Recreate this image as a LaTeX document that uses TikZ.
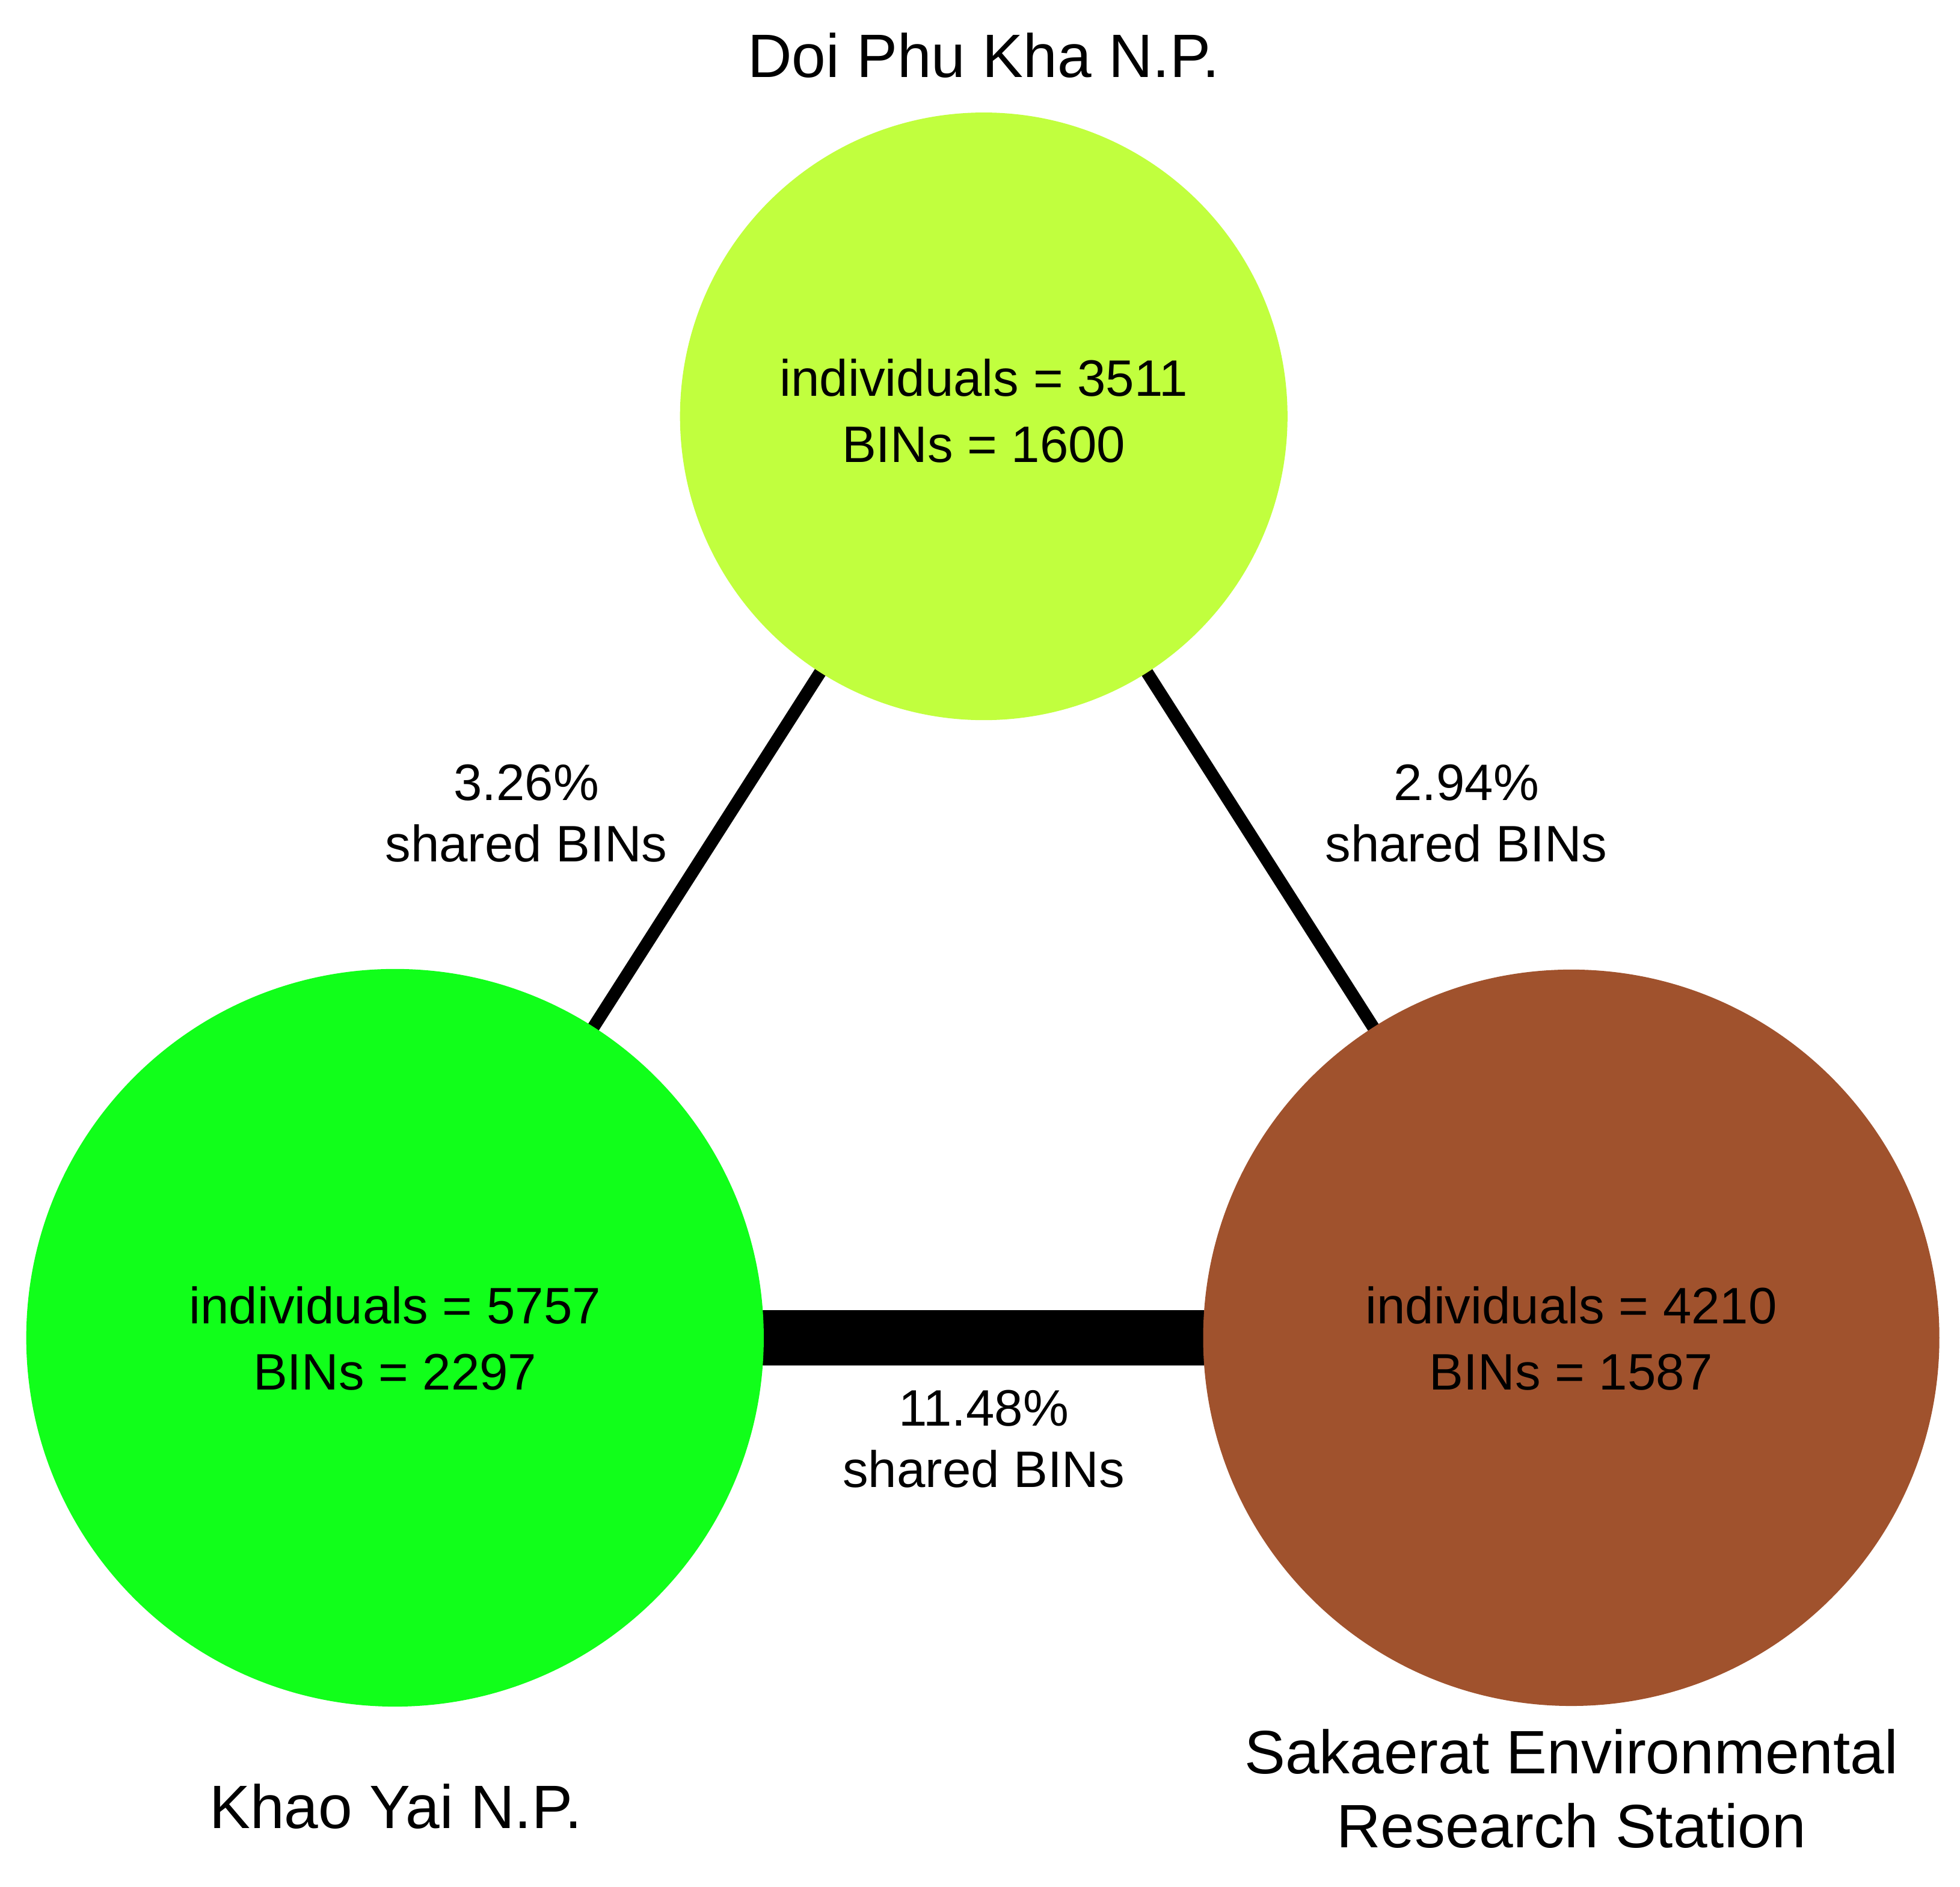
\documentclass[tikz,border=0pt]{standalone}
\usepackage{fontspec}
\setmainfont{Liberation Sans}
\usetikzlibrary{backgrounds}
\definecolor{doicol}{RGB}{193,255,62}
\definecolor{khaocol}{RGB}{17,255,26}
\definecolor{sakcol}{RGB}{160,82,45}
\begin{document}
\begin{tikzpicture}[x=1pt,y=-1pt,
  site/.style={circle,inner sep=0pt,outer sep=0pt},
  info/.style={align=center,anchor=base,font=\fontsize{41}{52.6}\selectfont,inner sep=0pt},
  share/.style={align=center,anchor=base,font=\fontsize{41}{49}\selectfont,inner sep=0pt},
  sitetitle/.style={align=center,anchor=base,font=\fontsize{49}{59.3}\selectfont,inner sep=0pt},
  link/.style={line width=10pt},
  biglink/.style={line width=44pt},
]
\useasboundingbox (0,0) rectangle (1568,1509);

\node[site,fill=doicol,minimum size=486pt] (doi) at (787,333) {};
\node[site,fill=khaocol,minimum size=590pt] (khao) at (316,1070) {};
\node[site,fill=sakcol,minimum size=589pt] (sak) at (1257,1070) {};

\begin{pgfonlayer}{background}
  \fill[white] (0,0) rectangle (1568,1509);
  \draw[link] (doi.center) -- (khao.center);
  \draw[link] (doi.center) -- (sak.center);
  \draw[biglink] (khao.center) -- (sak.center);
\end{pgfonlayer}

% anchor=base of a multi-line node is the baseline of its last line
\node[info] (doiinfo) at (787,369.6) {individuals = 3511\\BINs = 1600};
\node[info] (khaoinfo) at (316,1111.5) {individuals = 5757\\BINs = 2297};
\node[info] (sakinfo) at (1257,1111.5) {individuals = 4210\\BINs = 1587};

\node[share] (dk) at (421,689) {3.26\%\\shared BINs};
\node[share] (ds) at (1173,689) {2.94\%\\shared BINs};
\node[share] (ks) at (787,1189.5) {11.48\%\\shared BINs};

\node[sitetitle] (doititle) at (787,61.6) {Doi Phu Kha N.P.};
\node[sitetitle] (khaotitle) at (316.5,1462.6) {Khao Yai N.P.};
\node[sitetitle] (saktitle) at (1257,1478) {Sakaerat Environmental\\Research Station};
\end{tikzpicture}
\end{document}
